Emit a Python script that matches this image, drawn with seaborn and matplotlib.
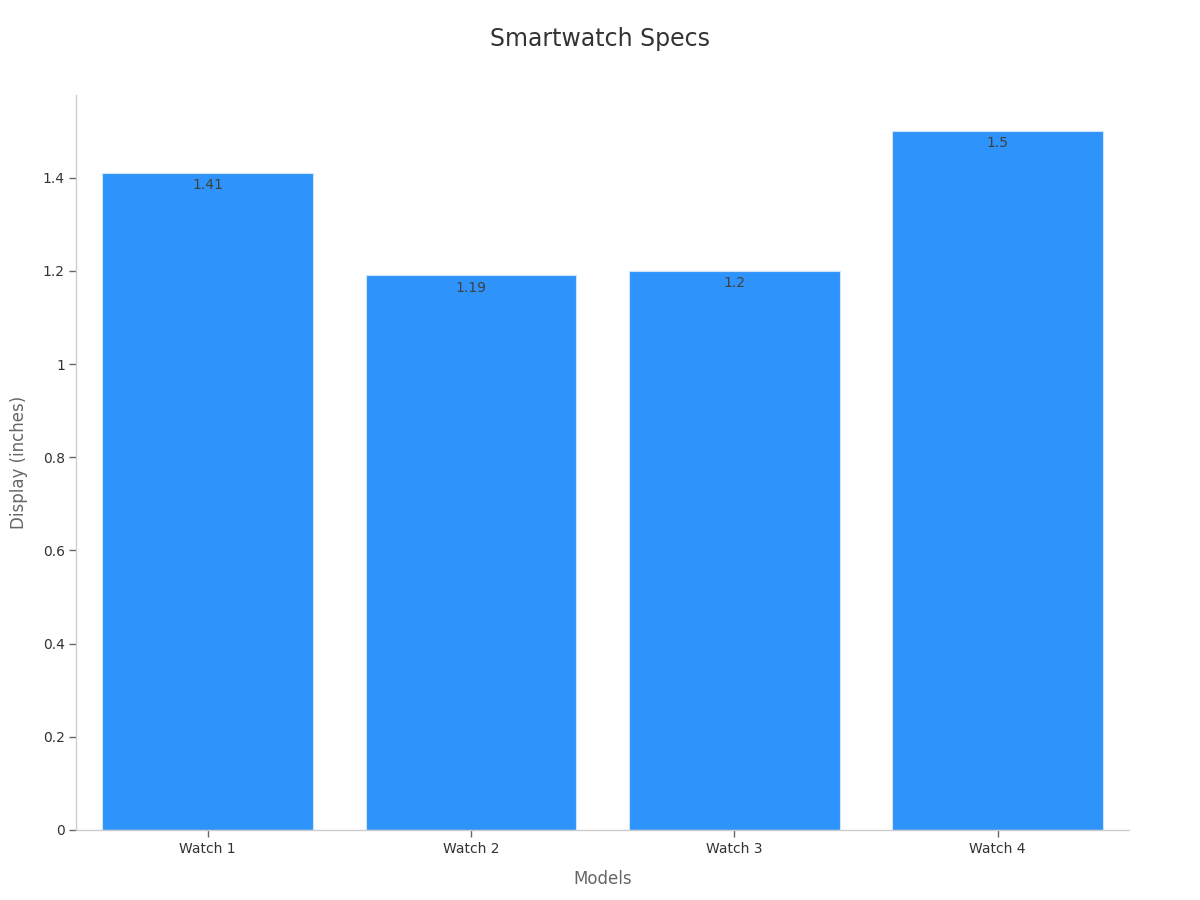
import matplotlib
matplotlib.use('Agg')
import matplotlib.pyplot as plt
import seaborn as sns
import pandas as pd
from matplotlib.ticker import FuncFormatter

models = ['Watch 1', 'Watch 2', 'Watch 3', 'Watch 4']
display_inches = [1.41, 1.19, 1.2, 1.5]

df = pd.DataFrame({'Models': models, 'Display (inches)': display_inches})

sns.set_style('white')
plt.rcParams['font.family'] = ['DejaVu Sans']

fig = plt.figure(figsize=(12, 9), dpi=100)
ax = fig.add_axes([0.0633, 0.0778, 0.8777, 0.8165])

sns.barplot(df, x='Models', y='Display (inches)', color='#2E93FA', saturation=1,
            width=0.8, edgecolor='#d0e4f7', linewidth=0.8, ax=ax)

# value labels just under the top of each bar
for i, v in enumerate(display_inches):
    ax.text(i, v - 0.011, f'{v:g}', ha='center', va='top', fontsize=10, color='#404040')

ax.set_xlim(-0.5, 3.5)
ax.set_ylim(0, 1.577)
ax.set_yticks([0, 0.2, 0.4, 0.6, 0.8, 1.0, 1.2, 1.4])
ax.yaxis.set_major_formatter(FuncFormatter(lambda v, p: f'{v:g}'))

for s in ['top', 'right']:
    ax.spines[s].set_visible(False)
for s in ['left', 'bottom']:
    ax.spines[s].set_color('#cccccc')
    ax.spines[s].set_linewidth(1)

ax.tick_params(axis='both', which='both', length=5, width=1, color='#666666',
               labelsize=10, labelcolor='#333333', left=True, bottom=True)
ax.tick_params(axis='x', pad=4)
ax.tick_params(axis='y', pad=3)
ax.set_xlabel('Models', fontsize=12, color='#666666', labelpad=10)
ax.set_ylabel('Display (inches)', fontsize=12, color='#666666', labelpad=11)

fig.suptitle('Smartwatch Specs', fontsize=17, color='#333333', y=0.97)

plt.savefig('out.png', dpi=100)
